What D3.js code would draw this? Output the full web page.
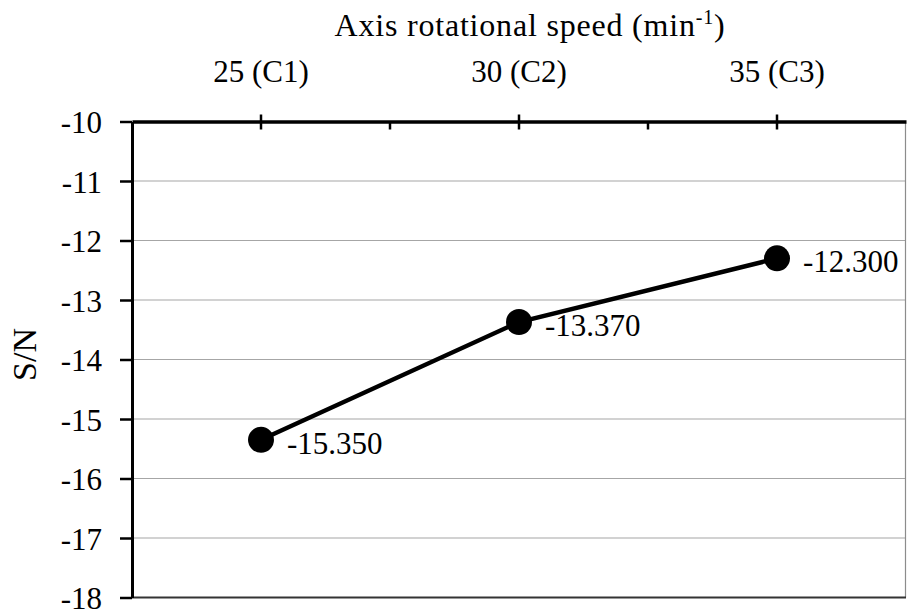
<!DOCTYPE html>
<html>
<head>
<meta charset="utf-8">
<script src="https://cdn.jsdelivr.net/npm/d3@7"></script>
<style>
  body { margin: 0; background: #fff; }
  text { font-family: "Liberation Serif", "Times New Roman", serif; fill: #000; }
</style>
</head>
<body>
<script>
// chart data
var categories = ["25 (C1)", "30 (C2)", "35 (C3)"];
var snValues = [-15.350, -13.370, -12.300];
var pointLabels = ["-15.350", "-13.370", "-12.300"];
var yTicks = [-10, -11, -12, -13, -14, -15, -16, -17, -18];
var yTickLabels = ["-10", "-11", "-12", "-13", "-14", "-15", "-16", "-17", "-18"];

var w = 907;
var h = 615;
var plotLeft = 132, plotRight = 906, plotTop = 121.5, plotBottom = 597.5;

var svg = d3.select("body")
            .append("svg")
            .attr("width", w)
            .attr("height", h);

var x = d3.scaleBand()
          .domain(categories)
          .range([plotLeft, plotRight])
          .padding(0);

var y = d3.scaleLinear()
          .domain([-10, -18])
          .range([plotTop, plotBottom]);

function cx(i) { return x(categories[i]) + x.bandwidth() / 2; }

// gridlines
svg.append("g")
   .selectAll("line")
   .data(yTicks.filter(function(d) { return d != -10 && d != -18; }))
   .enter()
   .append("line")
   .attr("x1", plotLeft)
   .attr("x2", plotRight)
   .attr("y1", function(d) { return y(d); })
   .attr("y2", function(d) { return y(d); })
   .style("stroke", "#a6a6a6")
   .style("stroke-width", 1.2);

// right and bottom border
svg.append("line")
   .attr("x1", plotRight - 0.5).attr("x2", plotRight - 0.5)
   .attr("y1", plotTop).attr("y2", plotBottom)
   .style("stroke", "#8c8c8c").style("stroke-width", 1.2);
svg.append("line")
   .attr("x1", plotLeft).attr("x2", plotRight)
   .attr("y1", plotBottom).attr("y2", plotBottom)
   .style("stroke", "#333").style("stroke-width", 2);

// y axis
var yAxis = svg.append("g")
   .attr("transform", "translate(" + plotLeft + ",0)")
   .call(d3.axisLeft(y)
           .tickValues(yTicks)
           .tickFormat(function(d, i) { return yTickLabels[i]; })
           .tickSize(12)
           .tickPadding(18)
           .tickSizeOuter(0));
yAxis.attr("font-family", null);
yAxis.select(".domain").style("stroke", "#000").style("stroke-width", 3);
yAxis.selectAll(".tick line").style("stroke", "#000").style("stroke-width", 2.5);
yAxis.selectAll("text")
     .style("font-family", "Liberation Serif")
     .style("font-size", "31px")
     .attr("dy", "0.36em");

// x axis on top
var xAxis = svg.append("g")
   .attr("transform", "translate(0," + plotTop + ")")
   .call(d3.axisTop(x)
           .tickSize(6)
           .tickPadding(34)
           .tickSizeOuter(0));
xAxis.attr("font-family", null);
xAxis.select(".domain").style("stroke", "#000").style("stroke-width", 3.5);
xAxis.selectAll(".tick line")
     .attr("y1", 8)
     .attr("y2", -7)
     .style("stroke", "#000").style("stroke-width", 2.5);
xAxis.selectAll("text")
     .style("font-family", "Liberation Serif")
     .style("font-size", "31px");

// boundary ticks between categories
svg.append("g")
   .selectAll("line")
   .data(categories.slice(1))
   .enter()
   .append("line")
   .attr("x1", function(d) { return x(d); })
   .attr("x2", function(d) { return x(d); })
   .attr("y1", plotTop)
   .attr("y2", plotTop + 8)
   .style("stroke", "#000")
   .style("stroke-width", 2.5);

// axis titles
var title = svg.append("text")
   .attr("x", 530)
   .attr("y", 36)
   .attr("text-anchor", "middle")
   .style("font-size", "32px")
   .style("letter-spacing", "0.8px");
title.append("tspan").text("Axis rotational speed (min");
title.append("tspan").text("-1").attr("dy", -12).style("font-size", "20px");
title.append("tspan").text(")").attr("dy", 12);

svg.append("text")
   .attr("transform", "translate(36," + ((plotTop + plotBottom) / 2 - 5) + ") rotate(-90)")
   .attr("text-anchor", "middle")
   .style("font-size", "34px")
   .text("S/N");

// series line
var line = d3.line()
   .x(function(d, i) { return cx(i); })
   .y(function(d) { return y(d); });

svg.append("path")
   .datum(snValues)
   .attr("d", line)
   .style("fill", "none")
   .style("stroke", "#000")
   .style("stroke-width", 4.5);

svg.append("g")
   .selectAll("circle")
   .data(snValues)
   .enter()
   .append("circle")
   .attr("cx", function(d, i) { return cx(i); })
   .attr("cy", function(d) { return y(d); })
   .attr("r", 13)
   .style("fill", "#000");

svg.append("g")
   .selectAll("text")
   .data(snValues)
   .enter()
   .append("text")
   .attr("x", function(d, i) { return cx(i) + 26; })
   .attr("y", function(d) { return y(d) + 14; })
   .style("font-size", "31px")
   .text(function(d, i) { return pointLabels[i]; });
</script>
</body>
</html>
